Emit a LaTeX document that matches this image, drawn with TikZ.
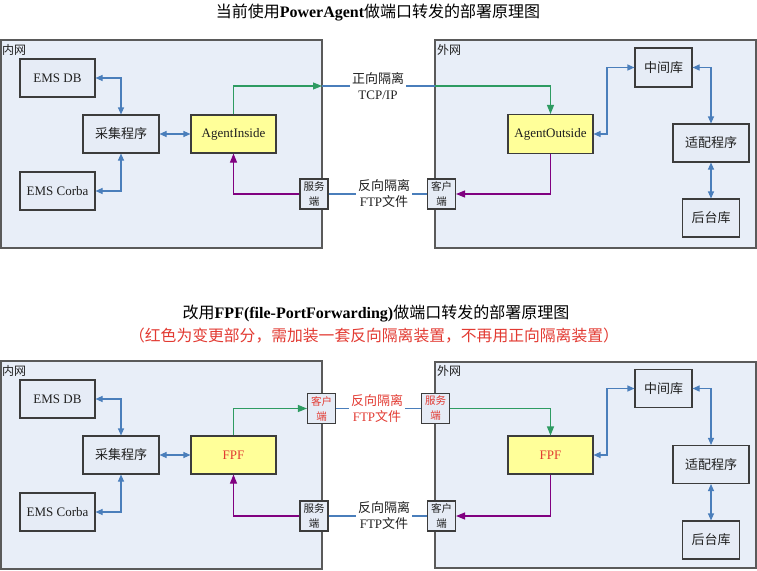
\documentclass[tikz,border=0pt]{standalone}
\usepackage{fontspec}
\setmainfont{Liberation Serif}
\newfontfamily\cjk{Noto Sans CJK SC}
\usetikzlibrary{arrows.meta}
\definecolor{panelfill}{HTML}{E8EEF8}
\definecolor{panelline}{HTML}{5A5A5A}
\definecolor{boxline}{HTML}{3C3C3C}
\definecolor{boxfill}{HTML}{E6ECF6}
\definecolor{agentfill}{HTML}{FFFF99}
\definecolor{txt}{HTML}{202020}
\definecolor{lnblue}{HTML}{4A7EBB}
\definecolor{lngreen}{HTML}{2E9B62}
\definecolor{lnpurple}{HTML}{800080}
\definecolor{redtxt}{HTML}{E23A32}
\tikzset{
  panel/.style={draw=panelline, fill=panelfill, line width=1.2pt},
  panellbl/.style={anchor=west, inner sep=0pt, text=txt, font=\cjk\fontsize{12}{14}\selectfont},
  box/.style={draw=boxline, fill=boxfill, line width=1.1pt, minimum height=38pt, inner sep=0pt, text=txt, font=\fontsize{13}{16}\selectfont},
  cbox/.style={box, font=\cjk\fontsize{13}{16}\selectfont},
  agent/.style={box, fill=agentfill},
  port/.style={draw=boxline, fill=boxfill, line width=1.1pt, minimum width=28pt, minimum height=30pt, inner sep=0pt, align=center, text=txt, font=\cjk\fontsize{10.5}{15}\selectfont},
  redport/.style={port, text=redtxt},
  linklbl/.style={align=center, inner sep=2pt, text=txt, font=\fontsize{13}{16}\selectfont},
  redlbl/.style={linklbl, text=redtxt},
  titlelbl/.style={inner sep=0pt, text=black, font=\fontsize{16}{18}\selectfont},
  bl/.style={draw=lnblue, line width=1.1pt},
  blboth/.style={bl, {Triangle[length=7pt,width=6pt]}-{Triangle[length=7pt,width=6pt]}},
  gr/.style={draw=lngreen, line width=1.1pt, -{Triangle[length=9pt,width=7pt]}},
  pu/.style={draw=lnpurple, line width=1.1pt, -{Triangle[length=9pt,width=7pt]}},
}
\begin{document}
\begin{tikzpicture}[x=1pt,y=-1pt]
\useasboundingbox (0,0) rectangle (757,570);
% ================= top diagram =================
\node[titlelbl] (t1) at (378,13) {{\cjk 当前使用}\textbf{PowerAgent}{\cjk 做端口转发的部署原理图}};
\draw[panel] (1,40) rectangle (322,248);
\draw[panel] (435,40) rectangle (756,248);
\node[panellbl] (in1) at (2,50) {内网};
\node[panellbl] (out1) at (437,50) {外网};

\node[box, minimum width=75pt] (emsdb1) at (57.5,78) {EMS DB};
\node[cbox, minimum width=76pt] (cj1) at (121,134) {采集程序};
\node[agent, minimum width=85pt] (ai1) at (233.5,134) {AgentInside};
\node[box, minimum width=75pt] (emsc1) at (57.5,191) {EMS Corba};
\node[agent, minimum width=85pt, minimum height=39pt] (ao1) at (550.5,134) {AgentOutside};
\node[cbox, minimum width=57pt, minimum height=39pt] (zj1) at (663.5,67.5) {中间库};
\node[cbox, minimum width=76pt] (sp1) at (711,143) {适配程序};
\node[cbox, minimum width=57pt] (ht1) at (711,218) {后台库};
\node[port] (fwd1) at (314,194) {服务\\端};
\node[port] (khd1) at (441.5,194) {客户\\端};
\node[linklbl] (l1) at (378,86) {{\cjk 正向隔离}\\TCP/IP};
\node[linklbl] (l2) at (384,194) {{\cjk 反向隔离}\\FTP{\cjk 文件}};
\coordinate (p1) at (322,86);
\coordinate (p2) at (435,86);

\draw[blboth] (emsdb1.east) -| (cj1.north);
\draw[blboth] (emsc1.east) -| (cj1.south);
\draw[blboth] (cj1.east) -- (ai1.west);
\draw[blboth] (ao1.east) -- (607,134) |- (zj1.west);
\draw[blboth] (zj1.east) -| (sp1.north);
\draw[blboth] (sp1.south) -- (ht1.north);
\draw[gr] (ai1.north) |- (p1);
\draw[bl] (p1) -- (l1.west);
\draw[bl] (l1.east) -- (p2);
\draw[gr] (p2) -| (ao1.north);
\draw[pu] (fwd1.west) -| (ai1.south);
\draw[bl] (fwd1.east) -- (l2.west);
\draw[bl] (l2.east) -- (khd1.west);
\draw[pu] (ao1.south) |- (khd1.east);

% ================= bottom diagram =================
\node[titlelbl] (t2) at (376,314) {{\cjk 改用}\textbf{FPF(file-PortForwarding)}{\cjk 做端口转发的部署原理图}};
\node[titlelbl, text=redtxt, font=\cjk\fontsize{15.8}{18}\selectfont] (t3) at (374,336) {（红色为变更部分，需加装一套反向隔离装置，不再用正向隔离装置）};
\draw[panel] (1,361) rectangle (322,569);
\draw[panel] (435,362) rectangle (756,568);
\node[panellbl] (in2) at (2,371) {内网};
\node[panellbl] (out2) at (437,371) {外网};

\node[box, minimum width=75pt] (emsdb2) at (57.5,399) {EMS DB};
\node[cbox, minimum width=76pt] (cj2) at (121,455) {采集程序};
\node[agent, minimum width=85pt, text=redtxt] (fpf1) at (233.5,455) {FPF};
\node[box, minimum width=75pt] (emsc2) at (57.5,512) {EMS Corba};
\node[agent, minimum width=85pt, text=redtxt] (fpf2) at (550.5,455) {FPF};
\node[cbox, minimum width=57pt] (zj2) at (663.5,388.5) {中间库};
\node[cbox, minimum width=76pt] (sp2) at (711,464.5) {适配程序};
\node[cbox, minimum width=57pt] (ht2) at (711,540) {后台库};
\node[redport] (khd2) at (321.5,408.5) {客户\\端};
\node[redport] (fwd2) at (435.5,408.5) {服务\\端};
\node[redlbl] (l3) at (377,408.5) {{\cjk 反向隔离}\\FTP{\cjk 文件}};
\node[port] (fwd3) at (314,516) {服务\\端};
\node[port] (khd3) at (441.5,516) {客户\\端};
\node[linklbl] (l4) at (384,516) {{\cjk 反向隔离}\\FTP{\cjk 文件}};

\draw[blboth] (emsdb2.east) -| (cj2.north);
\draw[blboth] (emsc2.east) -| (cj2.south);
\draw[blboth] (cj2.east) -- (fpf1.west);
\draw[blboth] (fpf2.east) -- (607,455) |- (zj2.west);
\draw[blboth] (zj2.east) -| (sp2.north);
\draw[blboth] (sp2.south) -- (ht2.north);
\draw[gr] (fpf1.north) |- (khd2.west);
\draw[bl] (khd2.east) -- (l3.west);
\draw[bl] (l3.east) -- (fwd2.west);
\draw[gr] (fwd2.east) -| (fpf2.north);
\draw[pu] (fwd3.west) -| (fpf1.south);
\draw[bl] (fwd3.east) -- (l4.west);
\draw[bl] (l4.east) -- (khd3.west);
\draw[pu] (fpf2.south) |- (khd3.east);
\end{tikzpicture}
\end{document}
